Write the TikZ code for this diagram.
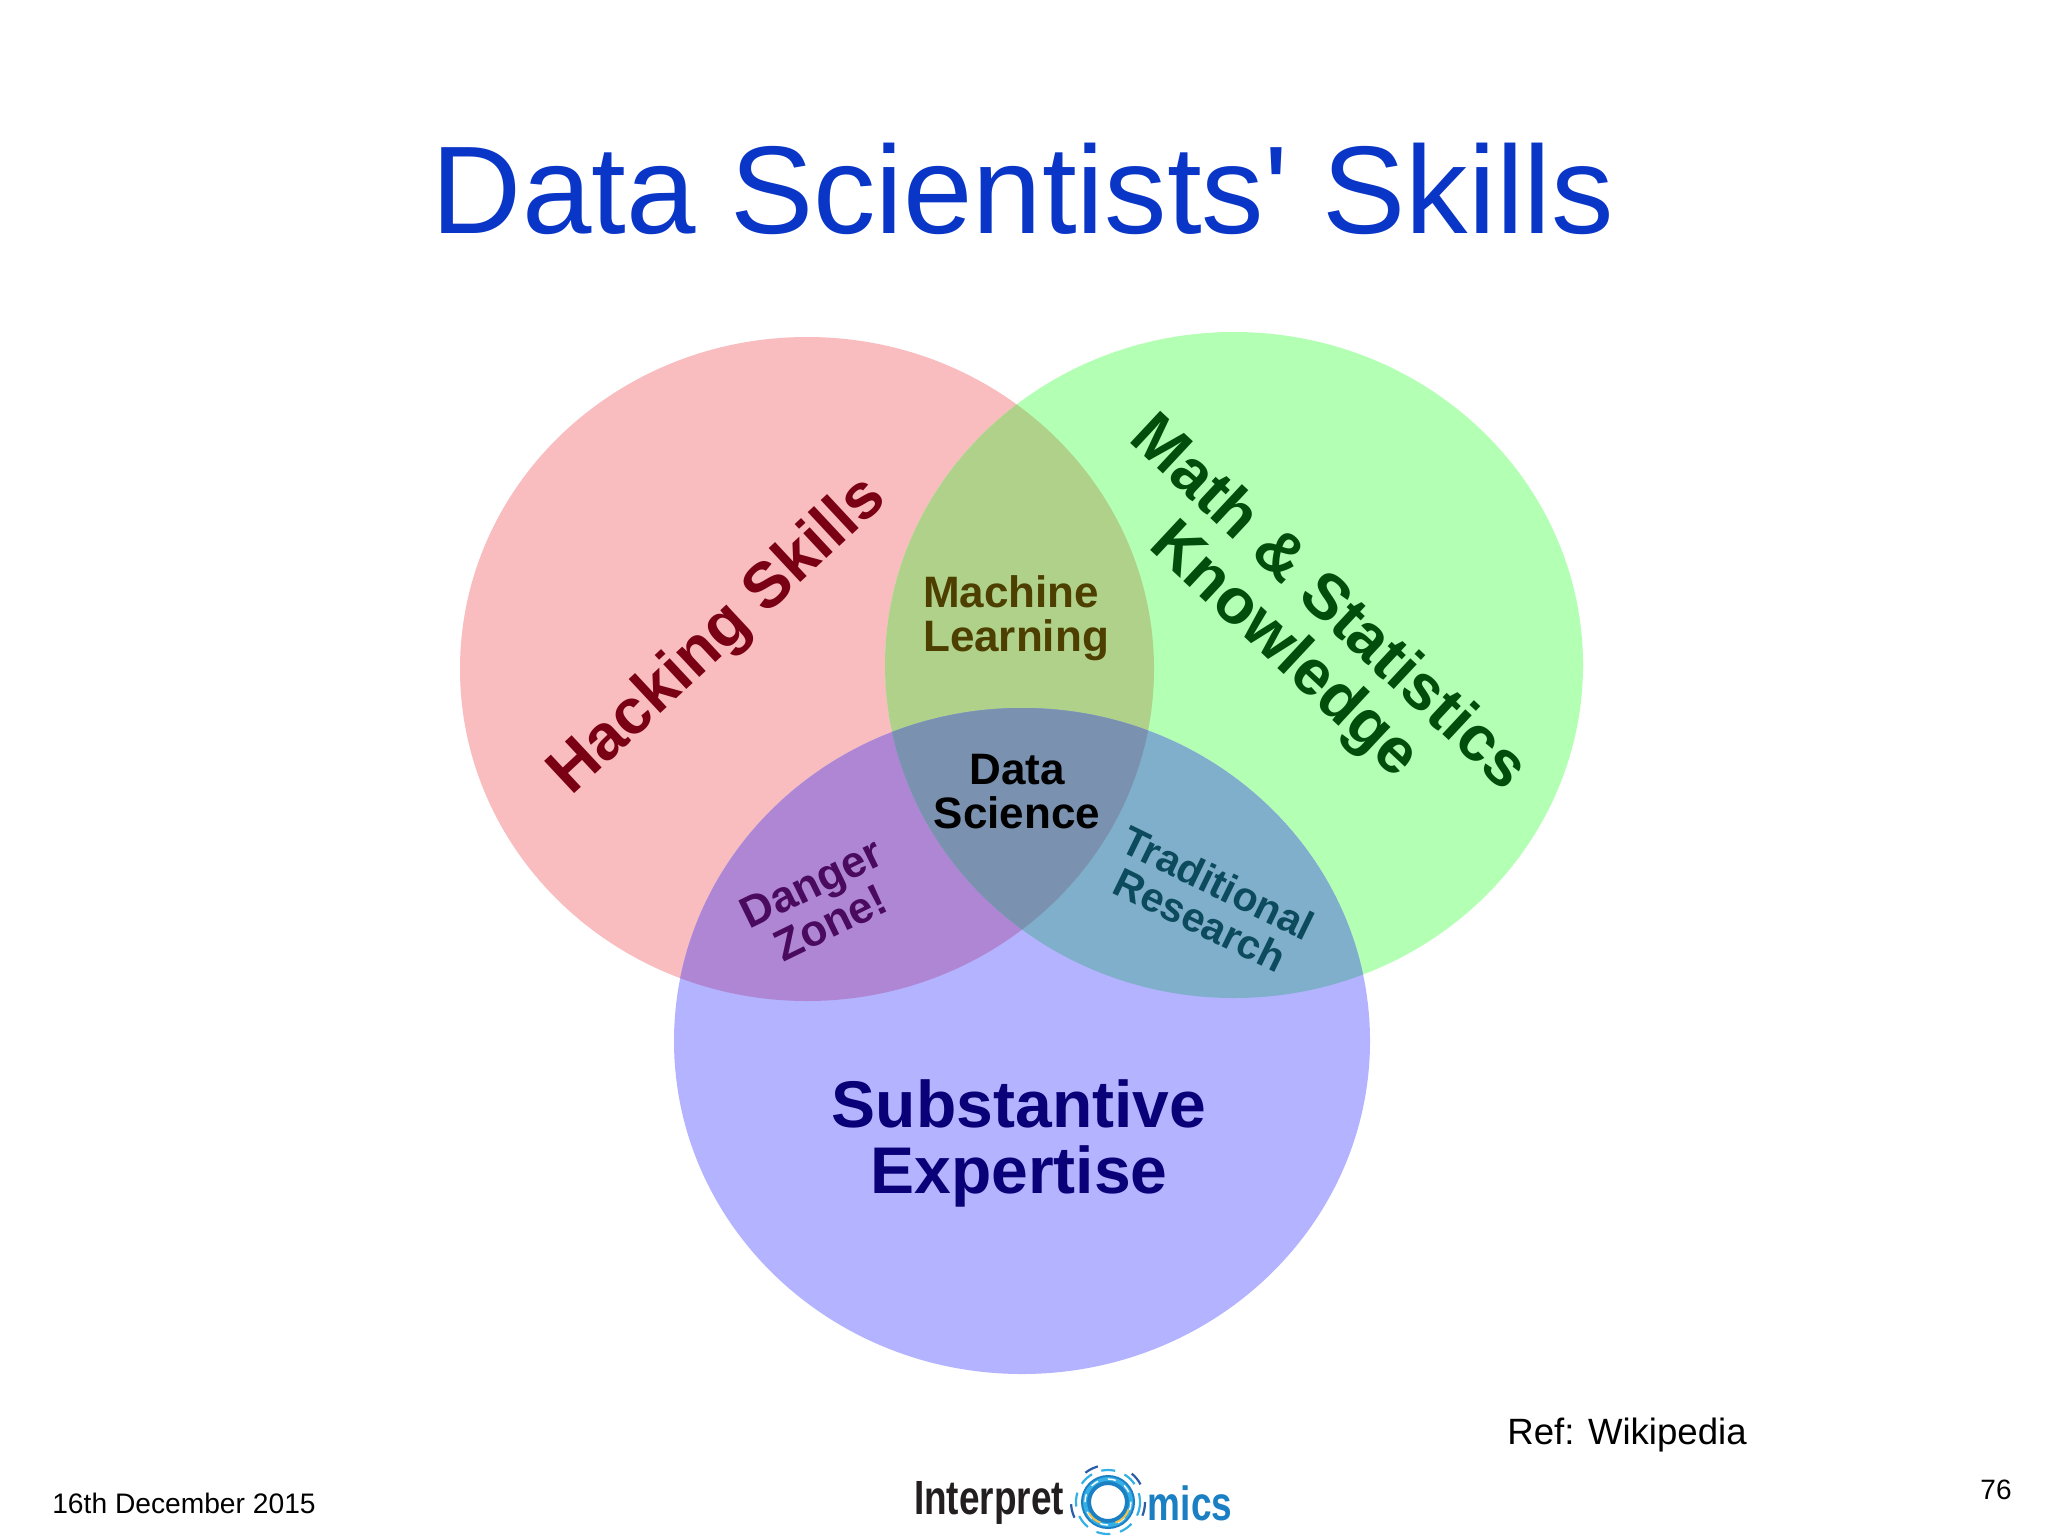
\documentclass[tikz,border=0pt]{standalone}
\usepackage{fontspec}
\setmainfont{Liberation Sans}
\definecolor{hackred}{HTML}{F9BCBF}
\definecolor{mathgreen}{HTML}{B3FFB3}
\definecolor{subblue}{HTML}{B3B3FF}
\definecolor{mlolive}{HTML}{B0D18A}
\definecolor{dangerpurple}{HTML}{AE86D3}
\definecolor{tradteal}{HTML}{7FAFCB}
\definecolor{dsslate}{HTML}{7A92B0}
\definecolor{titleblue}{HTML}{0A36C8}
\definecolor{hackink}{HTML}{7A0014}
\definecolor{mathink}{HTML}{004D0C}
\definecolor{subink}{HTML}{0A0078}
\definecolor{mlink}{HTML}{4D3F00}
\definecolor{dangerink}{HTML}{4A0A5E}
\definecolor{tradink}{HTML}{0C4A5E}
\definecolor{logoblue}{HTML}{1B7FC4}
\definecolor{logolight}{HTML}{35B0E6}
\definecolor{logodark}{HTML}{2A5CA8}
\definecolor{logoyellow}{HTML}{F2C14E}
\definecolor{logoink}{HTML}{231F20}
\tikzset{
  hackzone/.style={insert path={(807,669) ellipse (347 and 332)}},
  mathzone/.style={insert path={(1234,665) ellipse (349 and 333)}},
  subzone/.style={insert path={(1022,1041) ellipse (348 and 333)}},
  vennlabel/.style={inner sep=0pt, align=center, font=\bfseries\fontsize{#1}{#1}\selectfont},
  slidetext/.style={inner sep=0pt, font=\fontsize{#1}{#1}\selectfont},
  logotext/.style={inner sep=0pt, xscale=0.77, font=\bfseries\fontsize{24}{24}\selectfont},
}
\begin{document}
\begin{tikzpicture}[x=0.5pt, y=-0.5pt]
    \useasboundingbox (0,0) rectangle (2048,1536);
    \fill[white] (0,0) rectangle (2048,1536);

    \fill[hackred, hackzone];
    \fill[mathgreen, mathzone];
    \fill[subblue, subzone];

    % overlaps
    \begin{scope}
        \clip[hackzone];
        \fill[mlolive, mathzone];
        \fill[dangerpurple, subzone];
    \end{scope}
    \begin{scope}
        \clip[mathzone];
        \fill[tradteal, subzone];
        \clip[subzone];
        \fill[dsslate, hackzone];
    \end{scope}

    \node[slidetext=62.4, text=titleblue] (title) at (1023,189) {Data Scientists\textquotesingle{} Skills};

    \node[vennlabel=32, text=hackink, rotate=43] (hacking) at (719,637) {Hacking Skills};
    \node[vennlabel=32, text=mathink, rotate=-43] (mathstats) at (1305,628) {Math \& Statistics\\Knowledge};
    \node[vennlabel=33, text=subink] (substantive) at (1019,1143) {Substantive\\Expertise};
    \node[vennlabel=22, align=left, text=mlink] (machine) at (1016,618) {Machine\\Learning};
    \node[vennlabel=22, text=black] (datasci) at (1017,792) {Data\\Science};
    \node[vennlabel=22, text=dangerink, rotate=26] (danger) at (821,903) {Danger\\Zone!};
    \node[vennlabel=20.5, text=tradink, rotate=-26] (research) at (1209,901) {Traditional\\Research};

    \node[slidetext=18.3] (ref) at (1627,1435) {Ref: Wikipedia};
    \node[slidetext=14.1] (date) at (184,1503) {16th December 2015};
    \node[slidetext=14] (page) at (1996,1490) {76};

    % logo
    \node[logotext, text=logoink] (interpret) at (989,1503) {Interpret};
    \node[logotext, text=logoblue] (mics) at (1190,1503) {mics};
    \draw[logoblue, line width=5pt] (1108,1502) circle (22);
    \draw[logolight, line width=2pt] (1108,1502) circle (23);
    \draw[white, line width=0.7pt, dash pattern=on 4pt off 5pt] (1108,1502) circle (23);
    \draw[logoyellow, line width=1pt] (1108,1502) ++(20:22) arc (20:70:22);
    \draw[logoyellow, line width=1pt] (1108,1502) ++(110:22) arc (110:150:22);
    \draw[logolight, line width=1.1pt, dash pattern=on 7pt off 5pt] (1108,1502) circle (32);
    \draw[logodark, line width=1.1pt, dash pattern=on 7pt off 18pt] (1108,1502) circle (37);
\end{tikzpicture}
\end{document}
